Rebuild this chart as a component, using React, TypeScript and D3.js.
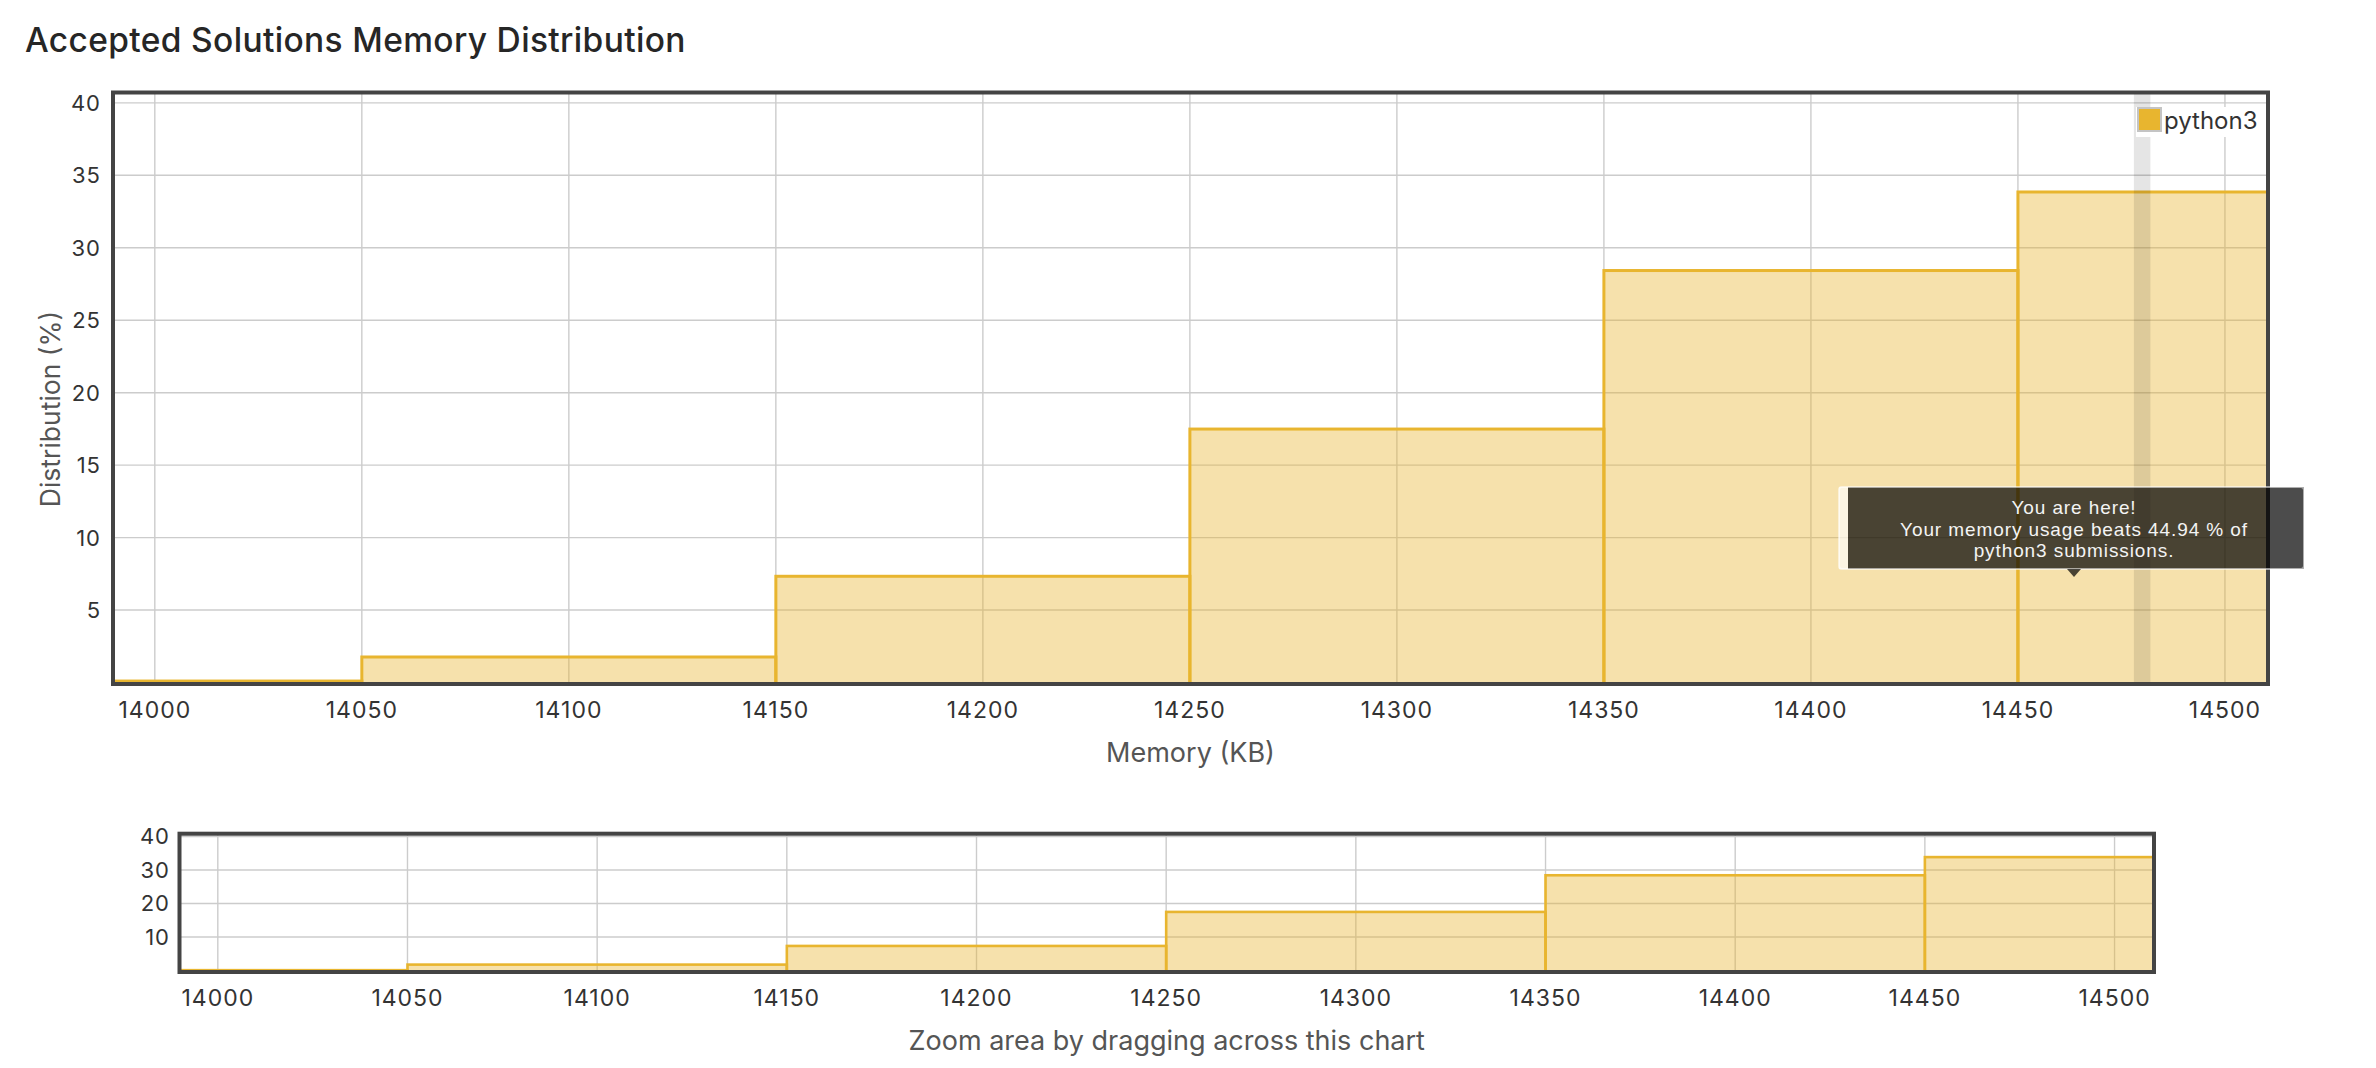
import React, { useEffect } from "react";
import * as d3 from "d3";

// ---- data ----
const binEdges = [13950, 14050, 14150, 14250, 14350, 14450, 14550];
const distribution = [0.1, 1.76, 7.33, 17.49, 28.43, 33.85];
const xTicks = [14000, 14050, 14100, 14150, 14200, 14250, 14300, 14350, 14400, 14450, 14500];
const yTicks = [5, 10, 15, 20, 25, 30, 35, 40];
const miniYTicks = [10, 20, 30, 40];
const xDomain = [13989.9, 14510.4];
const yDomain = [0, 40.75];
const userMemory = 14480;
const beatsPct = 44.94;
const language = "python3";
const titleText = "Accepted Solutions Memory Distribution";
const xTitle = "Memory (KB)";
const yTitle = "Distribution (%)";
const miniCaption = "Zoom area by dragging across this chart";

const FONT = "Inter, 'Noto Sans', 'DejaVu Sans', sans-serif";
const TIP_FONT = "'Liberation Sans', Arial, sans-serif";
const YELLOW = "#e8b52f";
const FRAME = "#444444";
const GRID = "#cccccc";

const bins = distribution.map((v, i) => ({ x0: binEdges[i], x1: binEdges[i + 1], v }));

export default function App() {
  useEffect(() => {
    document.body.style.margin = "0";
    document.body.style.overflow = "hidden";
  }, []);

  // main chart scales
  const x = d3.scaleLinear().domain(xDomain).range([113, 2268]);
  const y = d3.scaleLinear().domain(yDomain).range([682.5, 92]);
  // mini chart scales
  const mx = d3.scaleLinear().domain(xDomain).range([179.5, 2154]);
  const my = d3.scaleLinear().domain(yDomain).range([970.5, 834]);

  const [px0, px1] = x.range();
  const [py0, py1] = [y(yDomain[1]), 684];
  const [mx0, mx1] = mx.range();
  const [my0, my1] = [833.7, 972];

  const bandX0 = x(userMemory - 2);
  const bandX1 = x(userMemory + 2);

  const tipCx = 2074;
  const tipTop = 487;
  const tipBottom = 569;
  const tipLeft = 1839;
  const tipRight = 2304;

  const tickStyle = { letterSpacing: "1px" } as React.CSSProperties;

  return (
    <div style={{ position: "absolute", left: 0, top: 0 }}>
      <svg width={2376} height={1068} style={{ display: "block", background: "#fff" }} fontFamily={FONT}>
        <defs>
          <clipPath id="mainClip">
            <rect x={px0} y={py0} width={px1 - px0} height={py1 - py0} />
          </clipPath>
          <clipPath id="miniClip">
            <rect x={mx0} y={my0} width={mx1 - mx0} height={my1 - my0} />
          </clipPath>
        </defs>

        <text x={25} y={52} fontSize={33.5} fontWeight={500} fill="#262626" style={{ letterSpacing: "0.35px" }}>{titleText}</text>

        {/* main grid */}
        <g>
          {yTicks.map((t) => (
            <line key={"gy" + t} x1={px0} x2={px1} y1={y(t)} y2={y(t)} stroke={GRID} strokeWidth={1.4} />
          ))}
          {xTicks.map((t) => (
            <line key={"gx" + t} x1={x(t)} x2={x(t)} y1={py0} y2={py1} stroke={GRID} strokeWidth={1.4} />
          ))}
        </g>

        {/* main bars */}
        <g clipPath="url(#mainClip)">
          {bins.map((b, i) => (
            <rect key={"b" + i} x={x(b.x0)} y={y(b.v)} width={x(b.x1) - x(b.x0)} height={y(0) - y(b.v) + 4}
              fill={YELLOW} fillOpacity={0.4} stroke={YELLOW} strokeWidth={3} />
          ))}
          <rect x={bandX0} y={py0} width={bandX1 - bandX0} height={py1 - py0} fill="#000" fillOpacity={0.1} />
        </g>

        {/* main frame */}
        <rect x={px0} y={92.5} width={px1 - px0} height={684 - 92.5} fill="none" stroke={FRAME} strokeWidth={4} />

        {/* y tick labels */}
        {yTicks.map((t) => (
          <text key={"ly" + t} x={101} y={y(t)} dy="0.36em" textAnchor="end" fontSize={22} fill="#333" style={tickStyle}>{t}</text>
        ))}
        {/* x tick labels */}
        {xTicks.map((t) => (
          <text key={"lx" + t} x={x(t)} y={718} textAnchor="middle" fontSize={23} fill="#333" style={tickStyle}>{t}</text>
        ))}

        <text x={(px0 + px1) / 2} y={762} textAnchor="middle" fontSize={27} fill="#555">{xTitle}</text>
        <text transform={`translate(60,409) rotate(-90)`} textAnchor="middle" fontSize={26.5} fill="#555">{yTitle}</text>

        {/* legend */}
        <rect x={2136} y={107} width={92} height={30} fill="#fff" />
        <rect x={2138} y={108} width={23} height={23} fill={YELLOW} stroke="#c4c4c4" strokeWidth={2} />
        <text x={2164} y={129} fontSize={24} fill="#333">{language}</text>

        {/* tooltip */}
        <g>
          <rect x={tipLeft} y={tipTop} width={9} height={tipBottom - tipTop} fill="#fff" fillOpacity={0.65} />
          <rect x={tipLeft + 9} y={tipTop} width={tipRight - tipLeft - 9} height={tipBottom - tipTop} fill="#000" fillOpacity={0.7} />
          <rect x={tipLeft} y={tipTop} width={tipRight - tipLeft} height={tipBottom - tipTop} rx={3} fill="none" stroke="#fff" strokeOpacity={0.55} strokeWidth={2} />
          <path d={`M${tipCx - 7},${tipBottom} L${tipCx + 7},${tipBottom} L${tipCx},${tipBottom + 8} Z`} fill="#000" fillOpacity={0.7} />
          <text x={tipCx} textAnchor="middle" fontSize={19} fill="#f4f4f4" fontFamily={TIP_FONT} style={{ letterSpacing: "0.9px" }}>
            <tspan x={tipCx} y={514}>You are here!</tspan>
            <tspan x={tipCx} y={535.5}>{`Your memory usage beats ${beatsPct} % of`}</tspan>
            <tspan x={tipCx} y={557}>{`${language} submissions.`}</tspan>
          </text>
        </g>

        {/* mini chart */}
        <g>
          {miniYTicks.map((t) => (
            <line key={"mgy" + t} x1={mx0} x2={mx1} y1={my(t)} y2={my(t)} stroke={GRID} strokeWidth={1.4} />
          ))}
          {xTicks.map((t) => (
            <line key={"mgx" + t} x1={mx(t)} x2={mx(t)} y1={my0} y2={my1} stroke={GRID} strokeWidth={1.4} />
          ))}
        </g>
        <g clipPath="url(#miniClip)">
          {bins.map((b, i) => (
            <rect key={"mb" + i} x={mx(b.x0)} y={my(b.v)} width={mx(b.x1) - mx(b.x0)} height={my(0) - my(b.v) + 4}
              fill={YELLOW} fillOpacity={0.4} stroke={YELLOW} strokeWidth={2.6} />
          ))}
        </g>
        <rect x={mx0} y={my0} width={mx1 - mx0} height={my1 - my0} fill="none" stroke={FRAME} strokeWidth={4} />
        {miniYTicks.map((t) => (
          <text key={"mly" + t} x={170} y={my(t)} dy="0.36em" textAnchor="end" fontSize={22} fill="#333" style={tickStyle}>{t}</text>
        ))}
        {xTicks.map((t) => (
          <text key={"mlx" + t} x={mx(t)} y={1006} textAnchor="middle" fontSize={23} fill="#333" style={tickStyle}>{t}</text>
        ))}
        <text x={(mx0 + mx1) / 2} y={1050} textAnchor="middle" fontSize={27} fill="#555">{miniCaption}</text>
      </svg>
    </div>
  );
}
